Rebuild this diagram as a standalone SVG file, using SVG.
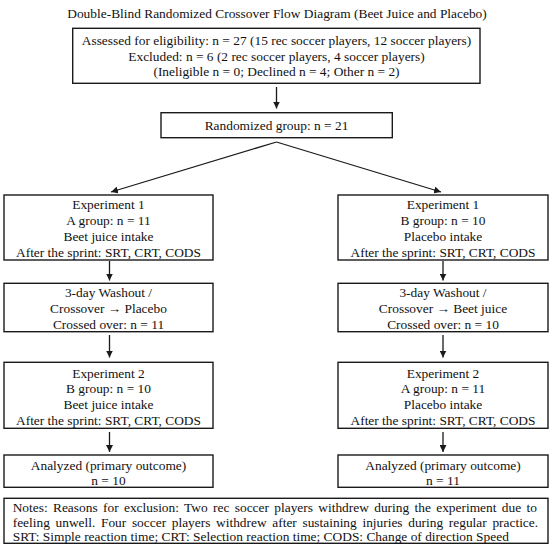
<svg xmlns="http://www.w3.org/2000/svg" width="550" height="557" viewBox="0 0 550 557">
<style>
text{font-family:"Liberation Serif","Times New Roman",serif;font-size:13.4px;fill:#111;text-anchor:middle}
.box{fill:#fff;stroke:#1a1a1a;stroke-width:1.4}
.ln{stroke:#1a1a1a;stroke-width:1.3;fill:none}
.notes{text-anchor:start}
</style>
<defs>
<marker id="ah" viewBox="0 0 10 10" refX="10" refY="5" markerWidth="7" markerHeight="7" markerUnits="userSpaceOnUse" orient="auto">
<path d="M0,0 L10,5 L0,10 z" fill="#1a1a1a"/>
</marker>
</defs>
<rect width="550" height="557" fill="#fff"/>
<text id="title" x="277" y="17.5">Double-Blind Randomized Crossover Flow Diagram (Beet Juice and Placebo)</text>

<g id="connectors">
<line class="ln" x1="276.5" y1="87" x2="276.5" y2="108.5" marker-end="url(#ah)"/>
<line class="ln" x1="276.5" y1="142" x2="111" y2="192" marker-end="url(#ah)"/>
<line class="ln" x1="276.5" y1="142" x2="441" y2="192" marker-end="url(#ah)"/>
<line class="ln" x1="109.5" y1="261" x2="109.5" y2="280.5" marker-end="url(#ah)"/>
<line class="ln" x1="109.5" y1="335" x2="109.5" y2="357.5" marker-end="url(#ah)"/>
<line class="ln" x1="109.5" y1="432" x2="109.5" y2="452" marker-end="url(#ah)"/>
<line class="ln" x1="443" y1="261" x2="443" y2="280.5" marker-end="url(#ah)"/>
<line class="ln" x1="443" y1="335" x2="443" y2="357.5" marker-end="url(#ah)"/>
<line class="ln" x1="443" y1="432" x2="443" y2="452" marker-end="url(#ah)"/>
</g>

<g id="assessed">
<rect class="box" x="72.7" y="28.3" width="407.3" height="55"/>
<text x="276.5" y="45">Assessed for eligibility: n = 27 (15 rec soccer players, 12 soccer players)</text>
<text x="276.5" y="60.7">Excluded: n = 6 (2 rec soccer players, 4 soccer players)</text>
<text x="276.5" y="76">(Ineligible n = 0; Declined n = 4; Other n = 2)</text>
</g>

<g id="randomized">
<rect class="box" x="161" y="112.7" width="231.3" height="25"/>
<text x="276.5" y="130">Randomized group: n = 21</text>
</g>

<g id="exp1-left">
<rect class="box" x="4" y="195" width="209" height="65"/>
<text x="108.5" y="209">Experiment 1</text>
<text x="108.5" y="225">A group: n = 11</text>
<text x="108.5" y="241">Beet juice intake</text>
<text x="108.5" y="257">After the sprint: SRT, CRT, CODS</text>
</g>

<g id="exp1-right">
<rect class="box" x="338" y="195" width="210" height="65"/>
<text x="443" y="209">Experiment 1</text>
<text x="443" y="225">B group: n = 10</text>
<text x="443" y="241">Placebo intake</text>
<text x="443" y="257">After the sprint: SRT, CRT, CODS</text>
</g>

<g id="washout-left">
<rect class="box" x="4" y="283.3" width="209" height="48.4"/>
<text x="108.5" y="297">3-day Washout /</text>
<text x="108.5" y="313">Crossover → Placebo</text>
<text x="108.5" y="328.5">Crossed over: n = 11</text>
</g>

<g id="washout-right">
<rect class="box" x="338" y="283.3" width="210" height="48.4"/>
<text x="443" y="297">3-day Washout /</text>
<text x="443" y="313">Crossover → Beet juice</text>
<text x="443" y="328.5">Crossed over: n = 10</text>
</g>

<g id="exp2-left">
<rect class="box" x="4" y="362.3" width="209" height="66"/>
<text x="108.5" y="377.5">Experiment 2</text>
<text x="108.5" y="393">B group: n = 10</text>
<text x="108.5" y="409">Beet juice intake</text>
<text x="108.5" y="425">After the sprint: SRT, CRT, CODS</text>
</g>

<g id="exp2-right">
<rect class="box" x="338" y="362.3" width="210" height="66"/>
<text x="443" y="377.5">Experiment 2</text>
<text x="443" y="393">A group: n = 11</text>
<text x="443" y="409">Placebo intake</text>
<text x="443" y="425">After the sprint: SRT, CRT, CODS</text>
</g>

<g id="analyzed-left">
<rect class="box" x="4" y="455" width="209" height="32.3"/>
<text x="108.5" y="470">Analyzed (primary outcome)</text>
<text x="108.5" y="485">n = 10</text>
</g>

<g id="analyzed-right">
<rect class="box" x="338" y="455" width="210" height="32.3"/>
<text x="443" y="470">Analyzed (primary outcome)</text>
<text x="443" y="485">n = 11</text>
</g>

<g id="notes">
<rect class="box" x="4" y="498.3" width="544" height="45"/>
<text class="notes" x="12.7" y="511.7" word-spacing="2.0">Notes: Reasons for exclusion: Two rec soccer players withdrew during the experiment due to</text>
<text class="notes" x="12.7" y="526.5" word-spacing="2.3">feeling unwell. Four soccer players withdrew after sustaining injuries during regular practice.</text>
<text class="notes" x="12.7" y="541">SRT: Simple reaction time; CRT: Selection reaction time; CODS: Change of direction Speed</text>
</g>
</svg>
